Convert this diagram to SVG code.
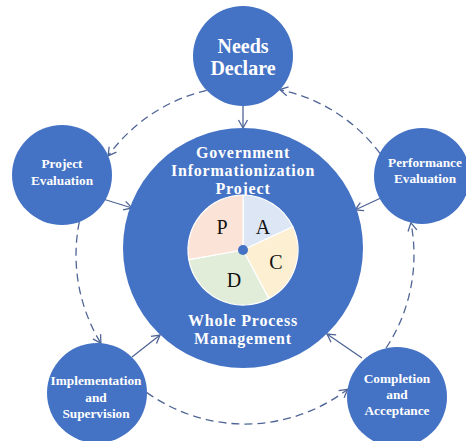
<svg xmlns="http://www.w3.org/2000/svg" width="466" height="441" viewBox="0 0 466 441">
  <style>
    .node { fill: #4472c4; }
    .lbl { font-family: "Liberation Serif", "Times New Roman", serif; font-weight: bold; fill: #ffffff; text-anchor: middle; }
    .small { font-size: 13.3px; }
    .big { font-size: 16px; letter-spacing: 0.8px; }
    .pdca { font-family: "Liberation Serif", "Times New Roman", serif; font-size: 20px; fill: #111111; text-anchor: middle; }
    .flow { fill: none; stroke: #4f6596; stroke-width: 1.3; }
    .cycle { fill: none; stroke: #4f6596; stroke-width: 1.3; stroke-dasharray: 8 5; }
    .seg { stroke: #ffffff; stroke-width: 1.2; }
  </style>
  <defs>
    <marker id="arrow" markerUnits="userSpaceOnUse" markerWidth="12" markerHeight="12" viewBox="0 0 12 12" refX="10" refY="6" orient="auto">
      <path d="M2,1.5 L10,6 L2,10.5" fill="none" stroke="#4f6596" stroke-width="1.3" stroke-dasharray="none"/>
    </marker>
  </defs>

  <rect width="466" height="441" fill="#ffffff"/>

  <!-- connectors: dashed cycle arcs and solid spokes into the hub -->
  <g id="connectors">
    <path class="cycle" marker-end="url(#arrow)" d="M380,153.3 A169,169 0 0 0 279.8,89.6"/>
    <path class="cycle" marker-end="url(#arrow)" d="M206.7,90.4 A169,169 0 0 0 108.1,155.9"/>
    <path class="cycle" marker-end="url(#arrow)" d="M79.3,221.9 A169,169 0 0 0 100.9,343.3"/>
    <path class="cycle" marker-end="url(#arrow)" d="M146.9,392.6 A169,169 0 0 0 347.7,389.3"/>
    <path class="cycle" marker-end="url(#arrow)" d="M386.1,348 A169,169 0 0 0 410.9,222.8"/>

    <path class="flow" marker-end="url(#arrow)" d="M243,106 L243,128"/>
    <path class="flow" marker-end="url(#arrow)" d="M103,199 L132,208"/>
    <path class="flow" marker-end="url(#arrow)" d="M383,197 L355,210"/>
    <path class="flow" marker-end="url(#arrow)" d="M132,357 L160,335"/>
    <path class="flow" marker-end="url(#arrow)" d="M362,358 L327,334"/>
  </g>

  <!-- hub -->
  <g id="hub">
    <circle class="node" cx="243" cy="248" r="120"/>
    <text class="lbl big" x="243" y="158">Government</text>
    <text class="lbl big" x="243" y="176">Informationization</text>
    <text class="lbl big" x="243" y="194">Project</text>
    <text class="lbl big" x="243" y="326">Whole Process</text>
    <text class="lbl big" x="243" y="344">Management</text>
  </g>

  <!-- PDCA wheel -->
  <g id="pdca">
    <path class="seg" fill="#dde6f5" d="M243,250 L243,195 A55,55 0 0 1 292.8,226.8 Z"/>
    <path class="seg" fill="#fdefd2" d="M243,250 L292.8,226.8 A55,55 0 0 1 268.8,298.6 Z"/>
    <path class="seg" fill="#e1edd9" d="M243,250 L268.8,298.6 A55,55 0 0 1 188.8,259.6 Z"/>
    <path class="seg" fill="#fbe4d7" d="M243,250 L188.8,259.6 A55,55 0 0 1 243,195 Z"/>
    <circle cx="243" cy="250" r="5" fill="#4472c4"/>
    <text class="pdca" x="222" y="234">P</text>
    <text class="pdca" x="263" y="234">A</text>
    <text class="pdca" x="276" y="269">C</text>
    <text class="pdca" x="234" y="287">D</text>
  </g>

  <g id="needs-declare">
    <circle class="node" cx="243" cy="56" r="50"/>
    <text class="lbl" style="font-size:20px" x="243" y="53">Needs</text>
    <text class="lbl" style="font-size:20px" x="243" y="75">Declare</text>
  </g>

  <g id="project-evaluation">
    <circle class="node" cx="62" cy="175" r="50"/>
    <text class="lbl small" x="62" y="168">Project</text>
    <text class="lbl small" x="62" y="185">Evaluation</text>
  </g>

  <g id="performance-evaluation">
    <circle class="node" cx="422" cy="176" r="48"/>
    <text class="lbl small" x="425" y="167">Performance</text>
    <text class="lbl small" x="425" y="183">Evaluation</text>
  </g>

  <g id="implementation-supervision">
    <circle class="node" cx="97" cy="393" r="50"/>
    <text class="lbl small" x="96" y="385">Implementation</text>
    <text class="lbl small" x="96" y="402">and</text>
    <text class="lbl small" x="96" y="418">Supervision</text>
  </g>

  <g id="completion-acceptance">
    <circle class="node" cx="397" cy="397" r="50"/>
    <text class="lbl small" x="397" y="383">Completion</text>
    <text class="lbl small" x="397" y="399">and</text>
    <text class="lbl small" x="397" y="415">Acceptance</text>
  </g>
</svg>
